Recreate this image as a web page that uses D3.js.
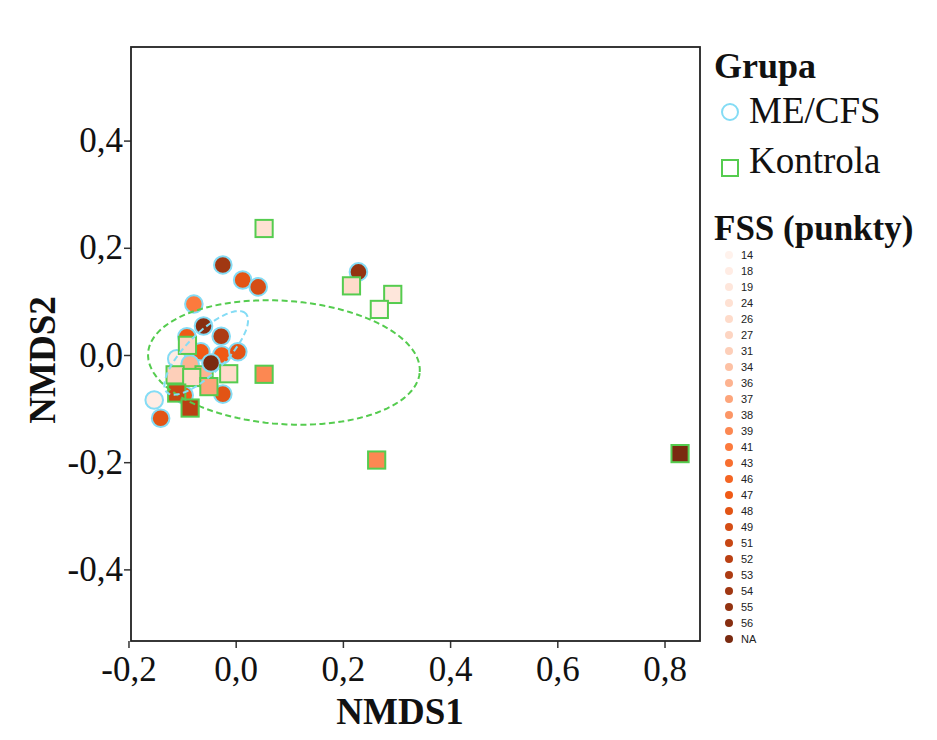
<!DOCTYPE html>
<html><head><meta charset="utf-8">
<script src="https://cdn.jsdelivr.net/npm/d3@7"></script>
<style>body{margin:0;background:#fff} svg{display:block}</style>
</head><body><svg id="c" width="937" height="740"></svg>
<script>
// ---- data (per sample, in drawing order) ----
const group = ["ME","ME","ME","ME","ME","ME","ME","ME","ME","ME","ME","ME","ME","ME","ME","ME","ME",
               "K","ME","K","K","K","K","K","K","K","K","K","K","K","K","K","K"];
const nmds1 = [-0.024,0.013,0.042,-0.078,-0.060,-0.091,-0.027,-0.065,-0.026,0.004,-0.110,-0.085,-0.024,-0.096,-0.152,-0.140,0.229,
               -0.059,-0.046,0.053,-0.090,-0.113,-0.082,-0.013,0.053,-0.050,-0.110,-0.085,0.216,0.293,0.268,0.263,0.829];
const nmds2 = [0.168,0.140,0.127,0.095,0.054,0.034,0.035,0.006,0.000,0.006,-0.007,-0.017,-0.073,-0.075,-0.084,-0.118,0.155,
               -0.037,-0.015,0.236,0.018,-0.037,-0.042,-0.035,-0.036,-0.059,-0.071,-0.099,0.129,0.113,0.085,-0.196,-0.184];
const fss   = ["54","48","49","41","56","47","53","47","47","48","18","36","48","47","18","48","55",
               "36","NA","24","27","31","26","26","39","37","51","52","26","19","14","39","NA"];

const fssLevels = ["14","18","19","24","26","27","31","34","36","37","38","39","41","43","46","47","48","49","51","52","53","54","55","56","NA"];
const groupKeys = ["ME","K"];
const groupLabels = ["ME/CFS","Kontrola"];

// group ellipses (centre, semi-axes in data units, rotation in degrees)
const ellGroup = ["K","ME"];
const ellCx = [0.090,-0.055];
const ellCy = [-0.014,0.004];
const ellA  = [0.254,0.104];
const ellB  = [0.115,0.037];
const ellAng= [-4,45];

const xTicks = [-0.2,0,0.2,0.4,0.6,0.8];
const yTicks = [-0.4,-0.2,0,0.2,0.4];

// ---- layout ----
const svg = d3.select("#c");
const L = 131, T = 47, R = 700, B = 641;
const x = d3.scaleLinear().domain([-0.1953, 0.8662]).range([L, R]);
const y = d3.scaleLinear().domain([-0.5336, 0.5746]).range([B, T]);
const fmt = d => d3.format(".1f")(d).replace(".", ",").replace("−","-");

const strokeCol = d3.scaleOrdinal(groupKeys, ["#84dcf5","#55cc4f"]);
const ramp = d3.scaleLinear().domain([0,0.25,0.5,0.625,0.8,1])
  .range(["#fff2ec","#fdcfb9","#fc7a3d","#f05a16","#b73f13","#7a2a10"]).interpolate(d3.interpolateRgb);
const fillCol = d3.scaleOrdinal(fssLevels, fssLevels.map((d,i)=>ramp(i/(fssLevels.length-1))));

svg.append("rect").attr("width",937).attr("height",740).attr("fill","#fff");

// axes
const serif = "'Liberation Serif','Times New Roman',serif";
const xAxis = svg.append("g").attr("transform",`translate(0,${B})`)
  .call(d3.axisBottom(x).tickValues(xTicks).tickFormat(fmt).tickSize(7).tickSizeOuter(0));
const yAxis = svg.append("g").attr("transform",`translate(${L},0)`)
  .call(d3.axisLeft(y).tickValues(yTicks).tickFormat(fmt).tickSize(7).tickSizeOuter(0));
[xAxis,yAxis].forEach(a=>{
  a.select(".domain").remove();
  a.selectAll(".tick line").attr("stroke","#333").attr("stroke-width",1.5);
  a.selectAll(".tick text").attr("fill","#111").style("font-family",serif).style("font-size","35px");
});
xAxis.selectAll(".tick text").attr("dy","0.92em").attr("y",8);
yAxis.selectAll(".tick text").attr("x",-8).attr("dy","0.32em");

svg.append("text").attr("x",400).attr("y",724).attr("text-anchor","middle")
  .style("font-family",serif).style("font-weight","bold").style("font-size","37px").attr("fill","#111").text("NMDS1");
svg.append("text").attr("transform",`translate(55,360) rotate(-90)`).attr("text-anchor","middle")
  .style("font-family",serif).style("font-weight","bold").style("font-size","37px").attr("fill","#111").text("NMDS2");

// points
const idx = d3.range(group.length);
const pts = svg.append("g");
idx.forEach(i=>{
  const cx = x(nmds1[i]), cy = y(nmds2[i]);
  if (group[i]==="ME") {
    pts.append("circle").attr("cx",cx).attr("cy",cy).attr("r",8.8)
      .attr("fill",fillCol(fss[i])).attr("stroke",strokeCol("ME")).attr("stroke-width",2);
  } else {
    pts.append("rect").attr("x",cx-8.6).attr("y",cy-8.6).attr("width",17.2).attr("height",17.2)
      .attr("fill",fillCol(fss[i])).attr("stroke",strokeCol("K")).attr("stroke-width",2);
  }
});

// ellipses
const line = d3.line().x(d=>x(d[0])).y(d=>y(d[1]));
ellGroup.forEach((g,k)=>{
  const th = ellAng[k]*Math.PI/180;
  const ptsE = d3.range(0,361,3).map(t=>{
    const a = t*Math.PI/180;
    const u = ellA[k]*Math.cos(a), v = ellB[k]*Math.sin(a);
    return [ellCx[k] + u*Math.cos(th) - v*Math.sin(th), ellCy[k] + u*Math.sin(th) + v*Math.cos(th)];
  });
  svg.append("path").attr("d",line(ptsE)).attr("fill","none")
    .attr("stroke",strokeCol(g)).attr("stroke-width",2).attr("stroke-dasharray","6,3.5");
});

// frame
svg.append("rect").attr("x",L).attr("y",T).attr("width",R-L).attr("height",B-T)
  .attr("fill","none").attr("stroke","#222").attr("stroke-width",1.8);

// legend
const lg = svg.append("g");
lg.append("text").attr("x",714).attr("y",78).style("font-family",serif).style("font-weight","bold")
  .style("font-size","36px").attr("fill","#111").text("Grupa");
groupKeys.forEach((g,i)=>{
  const yy = 112 + i*50;
  if (g==="ME") lg.append("circle").attr("cx",730).attr("cy",yy).attr("r",8).attr("fill","none")
      .attr("stroke",strokeCol(g)).attr("stroke-width",2);
  else lg.append("rect").attr("x",722).attr("y",yy+6-8).attr("width",16).attr("height",16).attr("fill","none")
      .attr("stroke",strokeCol(g)).attr("stroke-width",2);
  lg.append("text").attr("x",749).attr("y",yy+11).style("font-family",serif).style("font-size","37px")
    .attr("fill","#111").text(groupLabels[i]);
});
lg.append("text").attr("x",714).attr("y",240).style("font-family",serif).style("font-weight","bold")
  .style("font-size","35px").attr("fill","#111").text("FSS (punkty)");
fssLevels.forEach((f,i)=>{
  const yy = 255 + i*16;
  lg.append("circle").attr("cx",729).attr("cy",yy).attr("r",4).attr("fill",fillCol(f));
  lg.append("text").attr("x",741).attr("y",yy).attr("dy","0.36em")
    .style("font-family","'Liberation Sans',Arial,sans-serif").style("font-size","11px").attr("fill","#222").text(f);
});
</script></body></html>
